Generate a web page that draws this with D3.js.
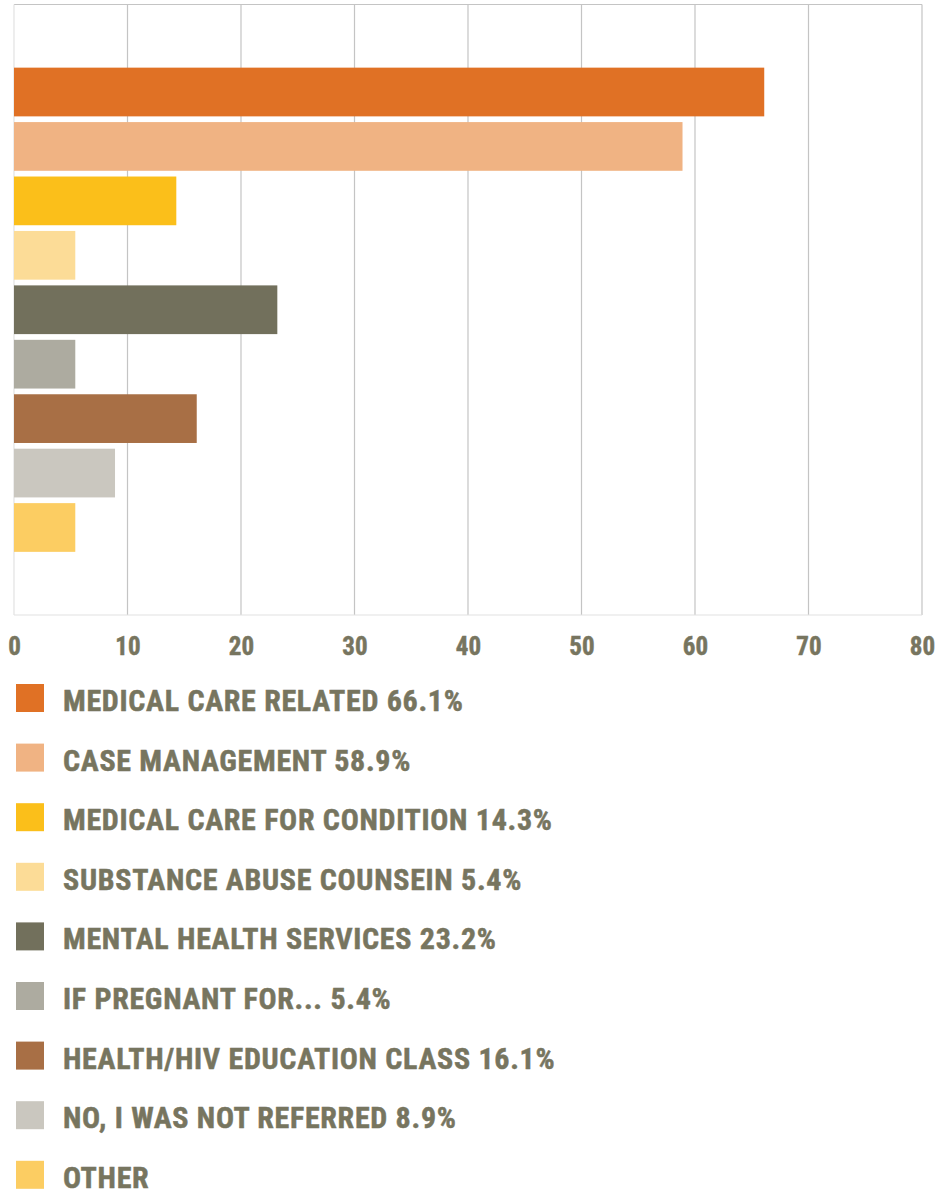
<!DOCTYPE html>
<html>
<head>
<meta charset="utf-8">
<script src="https://cdn.jsdelivr.net/npm/d3@7/dist/d3.min.js"></script>
<style>
  html, body { margin: 0; padding: 0; background: #fff; }
  svg { display: block; }
  .lbl { font-family: "Liberation Sans Narrow", "Roboto Condensed", "Arial Narrow", sans-serif; font-weight: bold; fill: #77755f; stroke: #77755f; stroke-width: 0.5px; }
</style>
</head>
<body>
<svg id="chart" width="938" height="1191"></svg>
<script>
// Referral categories, percentages and bar colours
const categories = [
  "MEDICAL CARE RELATED",
  "CASE MANAGEMENT",
  "MEDICAL CARE FOR CONDITION",
  "SUBSTANCE ABUSE COUNSEIN",
  "MENTAL HEALTH SERVICES",
  "IF PREGNANT FOR...",
  "HEALTH/HIV EDUCATION CLASS",
  "NO, I WAS NOT REFERRED",
  "OTHER"
];
const values = [66.1, 58.9, 14.3, 5.4, 23.2, 5.4, 16.1, 8.9, 5.4];
const showValueInLegend = [true, true, true, true, true, true, true, true, false];
const colors = ["#e07125", "#f0b383", "#fbbf1a", "#fcdc97", "#72705c", "#adaba0", "#a86f45", "#cac7bf", "#fccd62"];
const xTicks = [0, 10, 20, 30, 40, 50, 60, 70, 80];

const svg = d3.select("#chart");
const plot = { left: 14, right: 922, top: 4.5, bottom: 615 };

const x = d3.scaleLinear().domain([0, 80]).range([plot.left, plot.right]);
const y = d3.scaleBand().domain(categories).range([plot.top, plot.bottom])
  .paddingInner(0.105).paddingOuter(1.16);

// vertical gridlines
svg.append("g").selectAll("line").data(xTicks.filter(t => t > 0)).join("line")
  .attr("x1", d => x(d)).attr("x2", d => x(d))
  .attr("y1", plot.top).attr("y2", plot.bottom)
  .attr("stroke", "#c4c4c4").attr("stroke-width", 1.2);

// top border
svg.append("line").attr("x1", plot.left).attr("x2", plot.right)
  .attr("y1", plot.top).attr("y2", plot.top)
  .attr("stroke", "#c4c4c4").attr("stroke-width", 1.2);

// left and bottom axis lines
svg.append("line").attr("x1", plot.left).attr("x2", plot.left)
  .attr("y1", plot.top).attr("y2", plot.bottom)
  .attr("stroke", "#e2e2e2").attr("stroke-width", 1.2);
svg.append("line").attr("x1", plot.left).attr("x2", plot.right)
  .attr("y1", plot.bottom).attr("y2", plot.bottom)
  .attr("stroke", "#e2e2e2").attr("stroke-width", 1.2);

// bars
svg.append("g").selectAll("rect").data(categories).join("rect")
  .attr("x", x(0))
  .attr("y", d => y(d))
  .attr("width", (d, i) => x(values[i]) - x(0))
  .attr("height", y.bandwidth())
  .attr("fill", (d, i) => colors[i]);

// x axis tick labels
const xAxis = d3.axisBottom(x).tickValues(xTicks).tickSize(0).tickPadding(0).tickFormat(d3.format("d"));
const ax = svg.append("g").attr("transform", `translate(0, 655)`).call(xAxis);
ax.select(".domain").remove();
ax.selectAll("text")
  .attr("class", "lbl")
  .attr("dy", 0)
  .attr("y", 0)
  .style("font-size", "25px");

// legend
const legendTop = 684, legendStep = 59.6;
const leg = svg.append("g").selectAll("g").data(categories).join("g")
  .attr("transform", (d, i) => `translate(16, ${legendTop + i * legendStep})`);
leg.append("rect").attr("width", 28).attr("height", 28)
  .attr("fill", (d, i) => colors[i]);
leg.append("text").attr("class", "lbl")
  .attr("x", 47).attr("y", 27)
  .style("font-size", "30px")
  .style("letter-spacing", "0.7px")
  .text((d, i) => showValueInLegend[i] ? `${d} ${values[i]}%` : d);
</script>
</body>
</html>
